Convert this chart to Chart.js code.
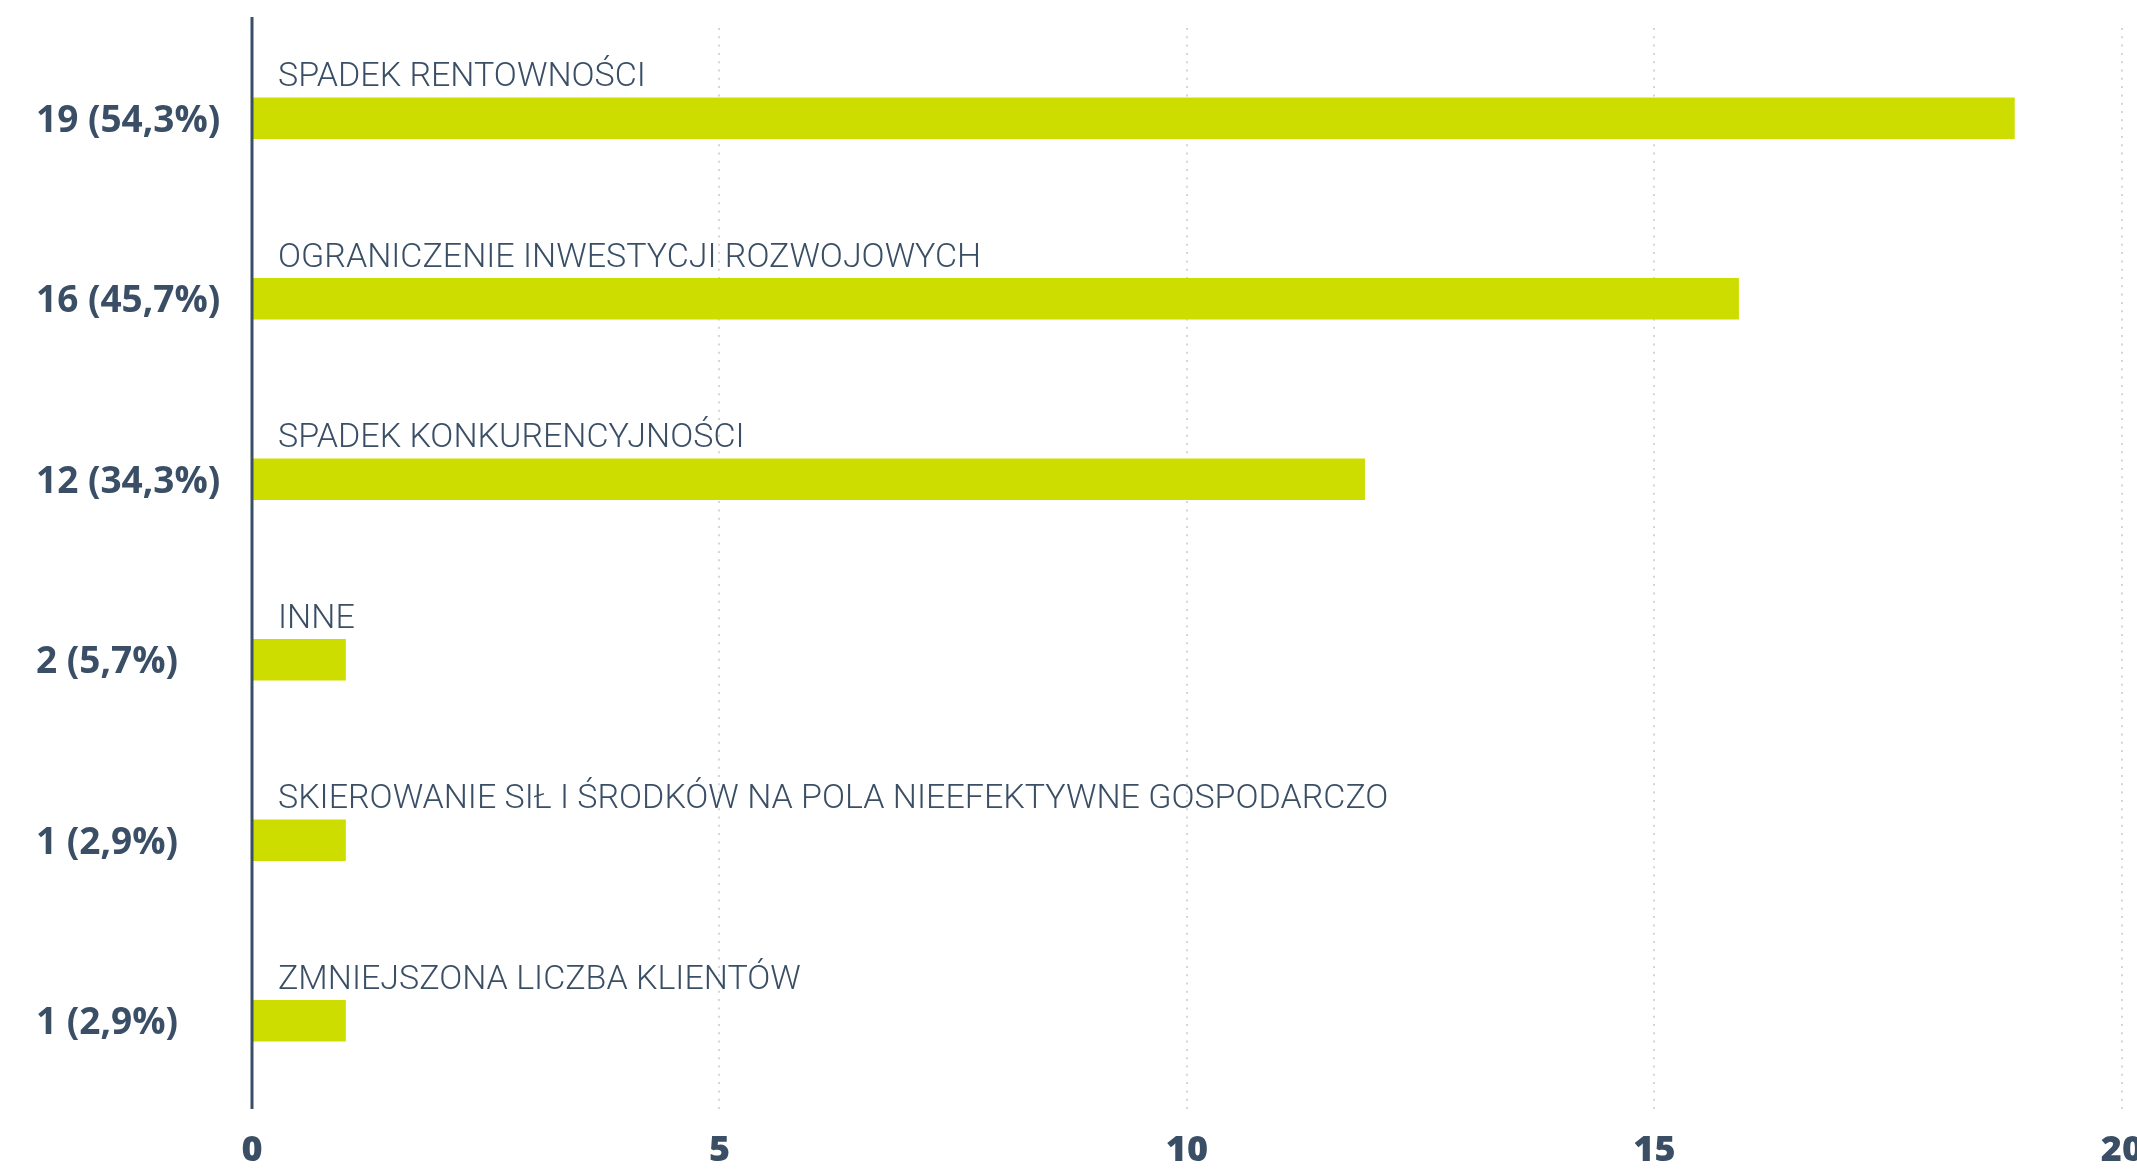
<!DOCTYPE html>
<html>
<head>
<meta charset="utf-8">
<script src="https://cdn.jsdelivr.net/npm/chart.js@4"></script>
<style>
  html, body { margin: 0; padding: 0; background: #ffffff; overflow: hidden; }
  #wrap { position: relative; width: 2165px; height: 1169px; }
</style>
</head>
<body>
<div id="wrap"><canvas id="c"></canvas></div>
<script>
const categories = [
  'SPADEK RENTOWNOŚCI',
  'OGRANICZENIE INWESTYCJI ROZWOJOWYCH',
  'SPADEK KONKURENCYJNOŚCI',
  'INNE',
  'SKIEROWANIE SIŁ I ŚRODKÓW NA POLA NIEEFEKTYWNE GOSPODARCZO',
  'ZMNIEJSZONA LICZBA KLIENTÓW'
];
const tickLabels = ['19 (54,3%)', '16 (45,7%)', '12 (34,3%)', '2 (5,7%)', '1 (2,9%)', '1 (2,9%)'];
const values = [18.85, 15.9, 11.9, 1, 1, 1];
const xTicks = [0, 5, 10, 15, 20];

const textColor = '#3a4f66';
const barColor = '#cddd00';
const gridColor = '#d6d6d6';

const catLabelPlugin = {
  id: 'catLabels',
  afterDatasetsDraw(chart) {
    const { ctx, scales: { x, y } } = chart;
    const x0 = x.getPixelForValue(0);
    ctx.save();
    ctx.font = '300 34px Roboto';
    ctx.fillStyle = textColor;
    ctx.textBaseline = 'alphabetic';
    ctx.textAlign = 'left';
    categories.forEach((c, i) => {
      const yc = y.getPixelForValue(i);
      ctx.fillText(c, x0 + 26, yc - 32);
    });
    ctx.strokeStyle = textColor;
    ctx.lineWidth = 3;
    ctx.beginPath();
    ctx.moveTo(x0, 17);
    ctx.lineTo(x0, chart.chartArea.bottom - 2);
    ctx.stroke();
    ctx.restore();
  }
};

new Chart(document.getElementById('c'), {
  type: 'bar',
  data: {
    labels: tickLabels,
    datasets: [{
      data: values,
      backgroundColor: barColor,
      borderWidth: 0,
      barThickness: 41
    }]
  },
  options: {
    indexAxis: 'y',
    responsive: true,
    maintainAspectRatio: false,
    animation: false,
    layout: { padding: { top: 28, left: 36, bottom: -22, right: 0 } },
    plugins: { legend: { display: false }, tooltip: { enabled: false } },
    scales: {
      x: {
        min: xTicks[0],
        max: xTicks[xTicks.length - 1],
        afterBuildTicks(scale) { scale.ticks = xTicks.map(v => ({ value: v })); },
        grid: {
          color: (ctx) => (ctx.tick && ctx.tick.value === 0) ? 'rgba(0,0,0,0)' : gridColor,
          lineWidth: 2,
          drawTicks: false
        },
        border: { display: false, dash: [2, 6.3] },
        ticks: {
          color: textColor,
          padding: 22,
          font: { family: 'Open Sans', weight: '800', size: 36, lineHeight: 1 }
        }
      },
      y: {
        grid: { display: false },
        border: { display: false },
        afterFit(scale) { scale.width = 216; },
        ticks: {
          color: textColor,
          crossAlign: 'far',
          labelOffset: 3,
          font: { family: 'Open Sans', weight: '700', size: 37 }
        }
      }
    }
  },
  plugins: [catLabelPlugin]
});
</script>
</body>
</html>
